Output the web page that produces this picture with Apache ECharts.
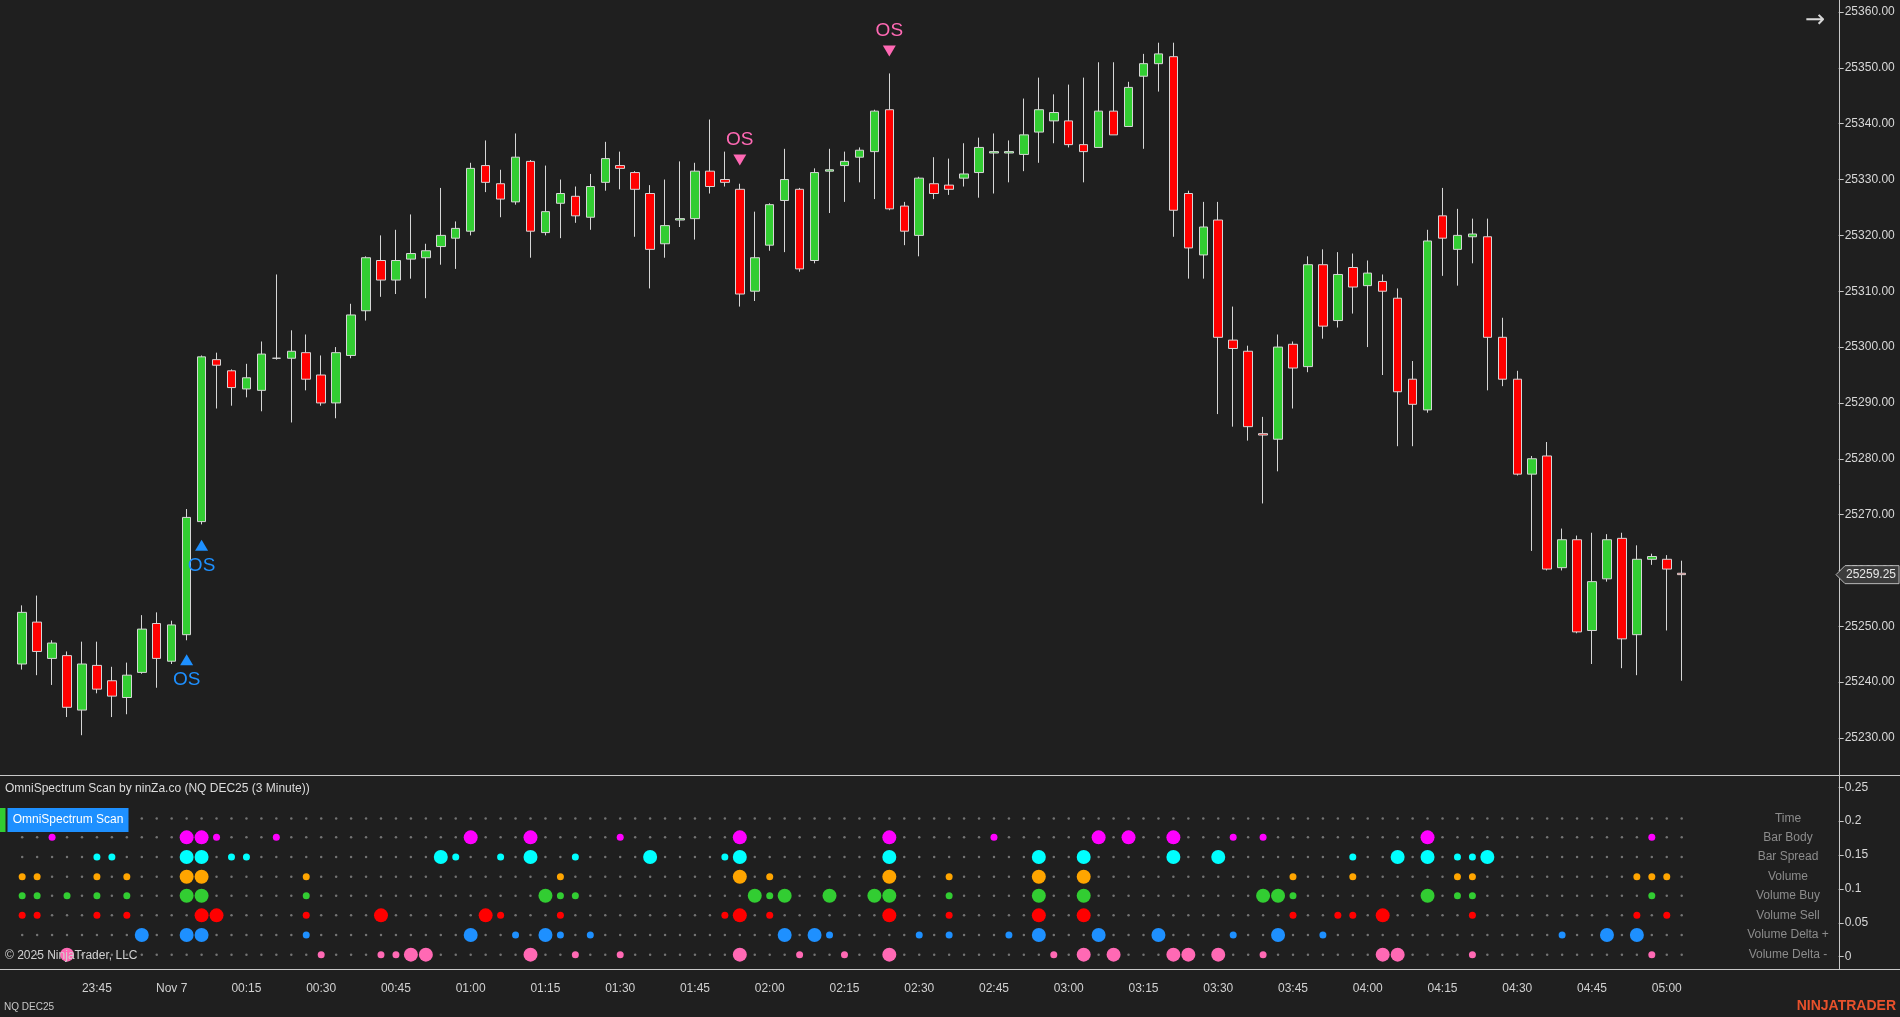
<!DOCTYPE html>
<html>
<head>
<meta charset="utf-8">
<title>NQ DEC25 (3 Minute)</title>
<script src="https://cdn.jsdelivr.net/npm/echarts@6/dist/echarts.min.js"></script>
<style>
  html, body { margin: 0; padding: 0; background: #1f1f1f; }
  #chart { width: 1900px; height: 1017px; }
</style>
</head>
<body>
<div id="chart"></div>
<script>
// 3 minute bars, first bar 23:30 (Nov 6), last bar 05:03 (Nov 7)
const startMinute = 23 * 60 + 30;
const barCount = 112;
const slotCount = 122; // free space right of the last bar

// [open, close, low, high]
const ohlc = [
  [25243.25, 25252.5, 25242.25, 25253.75],
  [25250.75, 25245.5, 25241.25, 25255.5],
  [25244.25, 25247, 25239.5, 25247.5],
  [25244.75, 25235.5, 25233.75, 25245.5],
  [25235, 25243.25, 25230.5, 25247.25],
  [25243, 25238.75, 25238, 25247.25],
  [25240.25, 25237.5, 25233.75, 25242.75],
  [25237.25, 25241.25, 25234.25, 25243.5],
  [25241.75, 25249.5, 25241.5, 25252],
  [25250.5, 25244.25, 25239, 25252.5],
  [25243.75, 25250.25, 25243.25, 25251],
  [25248.5, 25269.5, 25247.5, 25271],
  [25268.75, 25298.25, 25268.25, 25298.5],
  [25297.75, 25296.75, 25289, 25299],
  [25295.75, 25292.75, 25289.5, 25296],
  [25292.5, 25294.5, 25291, 25297],
  [25292.25, 25298.75, 25288.5, 25301],
  [25298, 25298, 25297.75, 25313],
  [25298, 25299.25, 25286.5, 25303],
  [25299, 25294.25, 25292.25, 25302.25],
  [25295, 25290, 25289.5, 25298.5],
  [25290, 25299, 25287.25, 25300],
  [25298.5, 25305.75, 25298, 25307.75],
  [25306.5, 25316, 25304.75, 25316.25],
  [25315.5, 25312, 25309, 25320],
  [25312, 25315.5, 25309.5, 25321],
  [25315.75, 25316.75, 25312.25, 25323.75],
  [25316, 25317.25, 25308.75, 25318.5],
  [25318, 25320, 25314.75, 25328.5],
  [25319.5, 25321.25, 25314, 25322.5],
  [25320.75, 25332, 25320, 25333],
  [25332.5, 25329.5, 25327.75, 25337],
  [25329.25, 25326.5, 25323.25, 25331.75],
  [25326, 25334, 25325.5, 25338.25],
  [25333.25, 25320.75, 25316, 25333.5],
  [25320.5, 25324.25, 25320, 25332.5],
  [25325.75, 25327.5, 25319.5, 25330],
  [25327, 25323.5, 25322.25, 25328.75],
  [25323.25, 25328.75, 25321, 25331],
  [25329.5, 25333.75, 25328, 25336.75],
  [25332.5, 25332, 25328.25, 25335],
  [25331.25, 25328.25, 25319.75, 25331.5],
  [25327.5, 25317.5, 25310.5, 25329],
  [25318.5, 25321.75, 25316, 25330],
  [25322.75, 25323, 25321.5, 25333.25],
  [25323, 25331.5, 25319.25, 25333],
  [25331.5, 25328.75, 25327.5, 25340.75],
  [25330, 25329.5, 25328.75, 25335],
  [25328.25, 25309.5, 25307.25, 25329.25],
  [25310, 25316, 25308.25, 25324.25],
  [25318.25, 25325.5, 25317.25, 25325.75],
  [25326.25, 25330, 25317, 25335.5],
  [25328.25, 25314, 25313.5, 25328.5],
  [25315.5, 25331.25, 25315, 25332],
  [25331.5, 25331.75, 25324, 25335.5],
  [25332.5, 25333.25, 25326, 25335],
  [25334, 25335.25, 25329.5, 25335.75],
  [25335, 25342.25, 25326.5, 25342.5],
  [25342.5, 25324.75, 25324.5, 25349],
  [25325.25, 25320.75, 25318.25, 25326],
  [25320, 25330.25, 25316.25, 25330.5],
  [25329.25, 25327.5, 25326.5, 25334],
  [25329, 25328.25, 25327.25, 25333.75],
  [25330.25, 25331, 25328.75, 25336.5],
  [25331.25, 25335.75, 25326.75, 25337.5],
  [25334.75, 25335, 25327.5, 25338.25],
  [25334.75, 25335, 25329.5, 25337],
  [25334.5, 25338, 25331.5, 25344.5],
  [25338.5, 25342.5, 25333, 25348.25],
  [25340.5, 25342, 25336.5, 25345.25],
  [25340.5, 25336.25, 25335.75, 25347],
  [25336.25, 25335, 25329.5, 25348.25],
  [25335.75, 25342.25, 25335.75, 25351],
  [25342.25, 25338, 25338, 25351],
  [25339.5, 25346.5, 25339.5, 25347.5],
  [25348.5, 25350.75, 25335.5, 25352.5],
  [25350.75, 25352.5, 25345.75, 25354.5],
  [25352, 25324.5, 25319.75, 25354.5],
  [25327.5, 25317.75, 25312.25, 25328],
  [25316.5, 25321.5, 25312.25, 25326],
  [25322.75, 25301.75, 25288, 25326],
  [25301.25, 25299.75, 25285.75, 25307.25],
  [25299.25, 25285.75, 25283.25, 25300.25],
  [25284.5, 25284.25, 25272, 25287.5],
  [25283.5, 25300, 25277.75, 25302.25],
  [25300.5, 25296.25, 25289, 25301],
  [25296.5, 25314.75, 25295.5, 25316.25],
  [25314.75, 25303.75, 25301.5, 25317.5],
  [25304.75, 25313, 25303.5, 25317],
  [25314.25, 25310.75, 25306, 25316.75],
  [25311, 25313.25, 25300, 25315.5],
  [25311.75, 25310, 25295, 25313],
  [25308.75, 25292, 25282.25, 25310.5],
  [25294.25, 25289.75, 25282.25, 25297.5],
  [25288.75, 25319, 25288.25, 25321],
  [25323.5, 25319.5, 25312.75, 25328.5],
  [25317.5, 25320, 25311, 25324.75],
  [25319.75, 25320.25, 25315, 25323],
  [25319.75, 25301.75, 25292.25, 25323],
  [25301.75, 25294.25, 25293, 25305.25],
  [25294.25, 25277.25, 25277, 25295.75],
  [25277.25, 25280, 25263.5, 25280.5],
  [25280.5, 25260.25, 25260, 25283],
  [25260.5, 25265.5, 25260, 25267.5],
  [25265.5, 25249, 25248.75, 25266.25],
  [25249.25, 25258, 25243.25, 25266.75],
  [25258.5, 25265.5, 25258, 25266.5],
  [25265.75, 25247.75, 25242.5, 25266.75],
  [25248.5, 25262, 25241.25, 25264.5],
  [25262, 25262.5, 25261, 25263],
  [25262, 25260.25, 25249.25, 25262.75],
  [25259.5, 25259.25, 25240.25, 25261.75]
];
const lastPrice = 25259.25;

// OS signals: [bar index, price of the marker]
const osUp = [[11, 25244], [12, 25264.5]];
const osDown = [[48, 25333.5], [58, 25353]];

// scanner rows (bottom to top), bar indices with a big / small dot
const deltaNegBig = [3, 26, 27, 34, 48, 58, 71, 73, 77, 78, 80, 91, 92];
const deltaNegSmall = [20, 24, 25, 37, 40, 52, 55, 69, 83, 97, 109];
const deltaPosBig = [8, 11, 12, 30, 35, 51, 53, 68, 72, 76, 84, 106, 108];
const deltaPosSmall = [19, 33, 36, 38, 54, 60, 62, 66, 81, 87, 103];
const sellBig = [12, 13, 24, 31, 48, 58, 68, 71, 91];
const sellSmall = [0, 1, 5, 7, 19, 32, 36, 47, 50, 62, 85, 88, 89, 97, 108, 110];
const buyBig = [11, 12, 35, 49, 51, 54, 57, 58, 68, 71, 83, 84, 94];
const buySmall = [0, 1, 3, 5, 7, 19, 36, 37, 50, 62, 85, 96, 97, 109];
const volumeBig = [11, 12, 48, 58, 68, 71];
const volumeSmall = [0, 1, 5, 7, 19, 36, 50, 62, 85, 89, 96, 97, 108, 109, 110];
const spreadBig = [11, 12, 28, 34, 42, 48, 58, 68, 71, 77, 80, 92, 94, 98];
const spreadSmall = [5, 6, 14, 15, 29, 32, 37, 47, 89, 96, 97];
const bodyBig = [11, 12, 30, 34, 48, 58, 72, 74, 77, 94];
const bodySmall = [2, 13, 17, 40, 65, 81, 83, 109];

const rowNames = ['Volume Delta -', 'Volume Delta +', 'Volume Sell', 'Volume Buy', 'Volume', 'Bar Spread', 'Bar Body', 'Time'];
const rowLevels = [0.003, 0.032, 0.061, 0.09, 0.118, 0.147, 0.176, 0.204];
const rowColors = ['#ff69b4', '#1e90ff', '#ff0000', '#32cd32', '#ffa500', '#00ffff', '#ff00ff', null];
const rowBig = [deltaNegBig, deltaPosBig, sellBig, buyBig, volumeBig, spreadBig, bodyBig, []];
const rowSmall = [deltaNegSmall, deltaPosSmall, sellSmall, buySmall, volumeSmall, spreadSmall, bodySmall, []];

const categories = [];
for (let i = 0; i < slotCount; i++) {
  const m = (startMinute + i * 3) % 1440;
  const hh = String(Math.floor(m / 60)).padStart(2, '0');
  const mm = String(m % 60).padStart(2, '0');
  categories.push(m === 0 ? 'Nov 7' : hh + ':' + mm);
}

const font = '"Liberation Sans", Arial, sans-serif';
const chart = echarts.init(document.getElementById('chart'));

const series = [
  {
    type: 'candlestick',
    xAxisIndex: 0,
    yAxisIndex: 0,
    data: ohlc,
    barWidth: 9,
    itemStyle: {
      color: '#32cd32',
      color0: '#ff0000',
      borderColor: '#d6d6d6',
      borderColor0: '#d6d6d6',
      borderColorDoji: '#d6d6d6',
      borderWidth: 1
    }
  },
  {
    type: 'scatter',
    xAxisIndex: 0,
    yAxisIndex: 0,
    data: osUp,
    symbol: 'triangle',
    symbolSize: [13, 11],
    itemStyle: { color: '#1e90ff', opacity: 1 },
    label: { show: true, formatter: 'OS', position: 'bottom', distance: 5, color: '#1e90ff', fontSize: 19, fontFamily: font }
  },
  {
    type: 'scatter',
    xAxisIndex: 0,
    yAxisIndex: 0,
    data: osDown,
    symbol: 'triangle',
    symbolRotate: 180,
    symbolSize: [13, 11],
    itemStyle: { color: '#ff69b4', opacity: 1 },
    label: { show: true, formatter: 'OS', position: 'top', distance: 5, color: '#ff69b4', fontSize: 19, fontFamily: font }
  }
];

rowNames.forEach((name, r) => {
  const data = [];
  for (let i = 0; i < barCount; i++) {
    const kind = rowBig[r].includes(i) ? 2 : rowSmall[r].includes(i) ? 1 : 0;
    data.push([i, rowLevels[r], kind]);
  }
  series.push({
    name: name,
    type: 'scatter',
    xAxisIndex: 1,
    yAxisIndex: 1,
    clip: false,
    silent: true,
    data: data,
    symbolSize: d => d[2] === 2 ? 14 : d[2] === 1 ? 7 : 2.5,
    itemStyle: { color: p => p.data[2] ? rowColors[r] : '#747474', opacity: 1 }
  });
});

chart.setOption({
  animation: false,
  backgroundColor: '#1f1f1f',
  grid: [
    { left: 14.7, right: 61.3, top: 12, bottom: 279 },
    { left: 14.7, right: 61.3, top: 787.2, bottom: 60.3 }
  ],
  xAxis: [
    { type: 'category', gridIndex: 0, data: categories, show: false },
    {
      type: 'category', gridIndex: 1, data: categories,
      axisLine: { show: false }, axisTick: { show: false },
      axisLabel: {
        interval: idx => idx > 0 && idx <= 110 && idx % 5 === 0,
        margin: 26, color: '#d0d0d0', fontSize: 12, fontFamily: font
      }
    }
  ],
  yAxis: [
    {
      type: 'value', gridIndex: 0, position: 'right',
      min: 25230, max: 25360, interval: 10,
      splitLine: { show: false }, axisLine: { show: false },
      axisTick: { show: true, length: 5, lineStyle: { color: '#c8c8c8' } },
      axisLabel: { formatter: v => v.toFixed(2), margin: 6, color: '#d8d8d8', fontSize: 12, fontFamily: font }
    },
    {
      type: 'value', gridIndex: 1, position: 'right',
      min: 0, max: 0.25, interval: 0.05,
      splitLine: { show: false }, axisLine: { show: false },
      axisTick: { show: true, length: 5, lineStyle: { color: '#c8c8c8' } },
      axisLabel: { formatter: v => String(+v.toFixed(2)), margin: 6, color: '#d8d8d8', fontSize: 12, fontFamily: font }
    }
  ],
  series: series
});

// overlay: panel lines, labels, price tag
const tagY = chart.convertToPixel({ yAxisIndex: 0 }, lastPrice);
const graphics = [
  { type: 'line', shape: { x1: 1839.5, y1: 0, x2: 1839.5, y2: 969.5 }, style: { stroke: '#c8c8c8', lineWidth: 1 } },
  { type: 'line', shape: { x1: 0, y1: 775.5, x2: 1900, y2: 775.5 }, style: { stroke: '#c8c8c8', lineWidth: 1 } },
  { type: 'line', shape: { x1: 0, y1: 969.5, x2: 1900, y2: 969.5 }, style: { stroke: '#c8c8c8', lineWidth: 1 } },
  {
    type: 'polygon',
    shape: { points: [[1836, tagY], [1845, tagY - 9], [1899, tagY - 9], [1899, tagY + 9], [1845, tagY + 9]] },
    style: { fill: '#3c3c3c', stroke: '#b8b8b8', lineWidth: 1 }
  },
  { type: 'text', x: 1871, y: tagY, style: { text: lastPrice.toFixed(2), fill: '#e8e8e8', font: '12px ' + font, align: 'center', verticalAlign: 'middle' } },
  { type: 'text', x: 1815, y: 21, style: { text: '→', fill: '#d8d8d8', font: '24px "DejaVu Sans", sans-serif', align: 'center', verticalAlign: 'middle' } },
  { type: 'text', x: 5, y: 789, style: { text: 'OmniSpectrum Scan by ninZa.co (NQ DEC25 (3 Minute))', fill: '#dcdcdc', font: '12px ' + font, verticalAlign: 'middle' } },
  { type: 'rect', shape: { x: 0, y: 808, width: 5.5, height: 24 }, style: { fill: '#32cd32' } },
  { type: 'rect', shape: { x: 7.5, y: 808, width: 121, height: 24 }, style: { fill: '#1e90ff' } },
  { type: 'text', x: 68, y: 820, style: { text: 'OmniSpectrum Scan', fill: '#ffffff', font: '12px ' + font, align: 'center', verticalAlign: 'middle' } },
  { type: 'text', x: 5, y: 956, style: { text: '© 2025 NinjaTrader, LLC', fill: '#d0d0d0', font: '12px ' + font, verticalAlign: 'middle' } },
  { type: 'text', x: 4, y: 1007, style: { text: 'NQ DEC25', fill: '#c8c8c8', font: '10px ' + font, verticalAlign: 'middle' } },
  { type: 'text', x: 1896, y: 1006, style: { text: 'NINJATRADER', fill: '#e8512c', font: 'bold 14px ' + font, align: 'right', verticalAlign: 'middle' } }
];
rowNames.forEach((name, r) => {
  const y = chart.convertToPixel({ yAxisIndex: 1 }, rowLevels[r]);
  graphics.push({ type: 'text', x: 1788, y: y, style: { text: name, fill: '#8c8c8c', font: '12px ' + font, align: 'center', verticalAlign: 'middle' } });
});
graphics.forEach(g => { g.z = 100; });
chart.setOption({ graphic: graphics });
</script>
</body>
</html>
